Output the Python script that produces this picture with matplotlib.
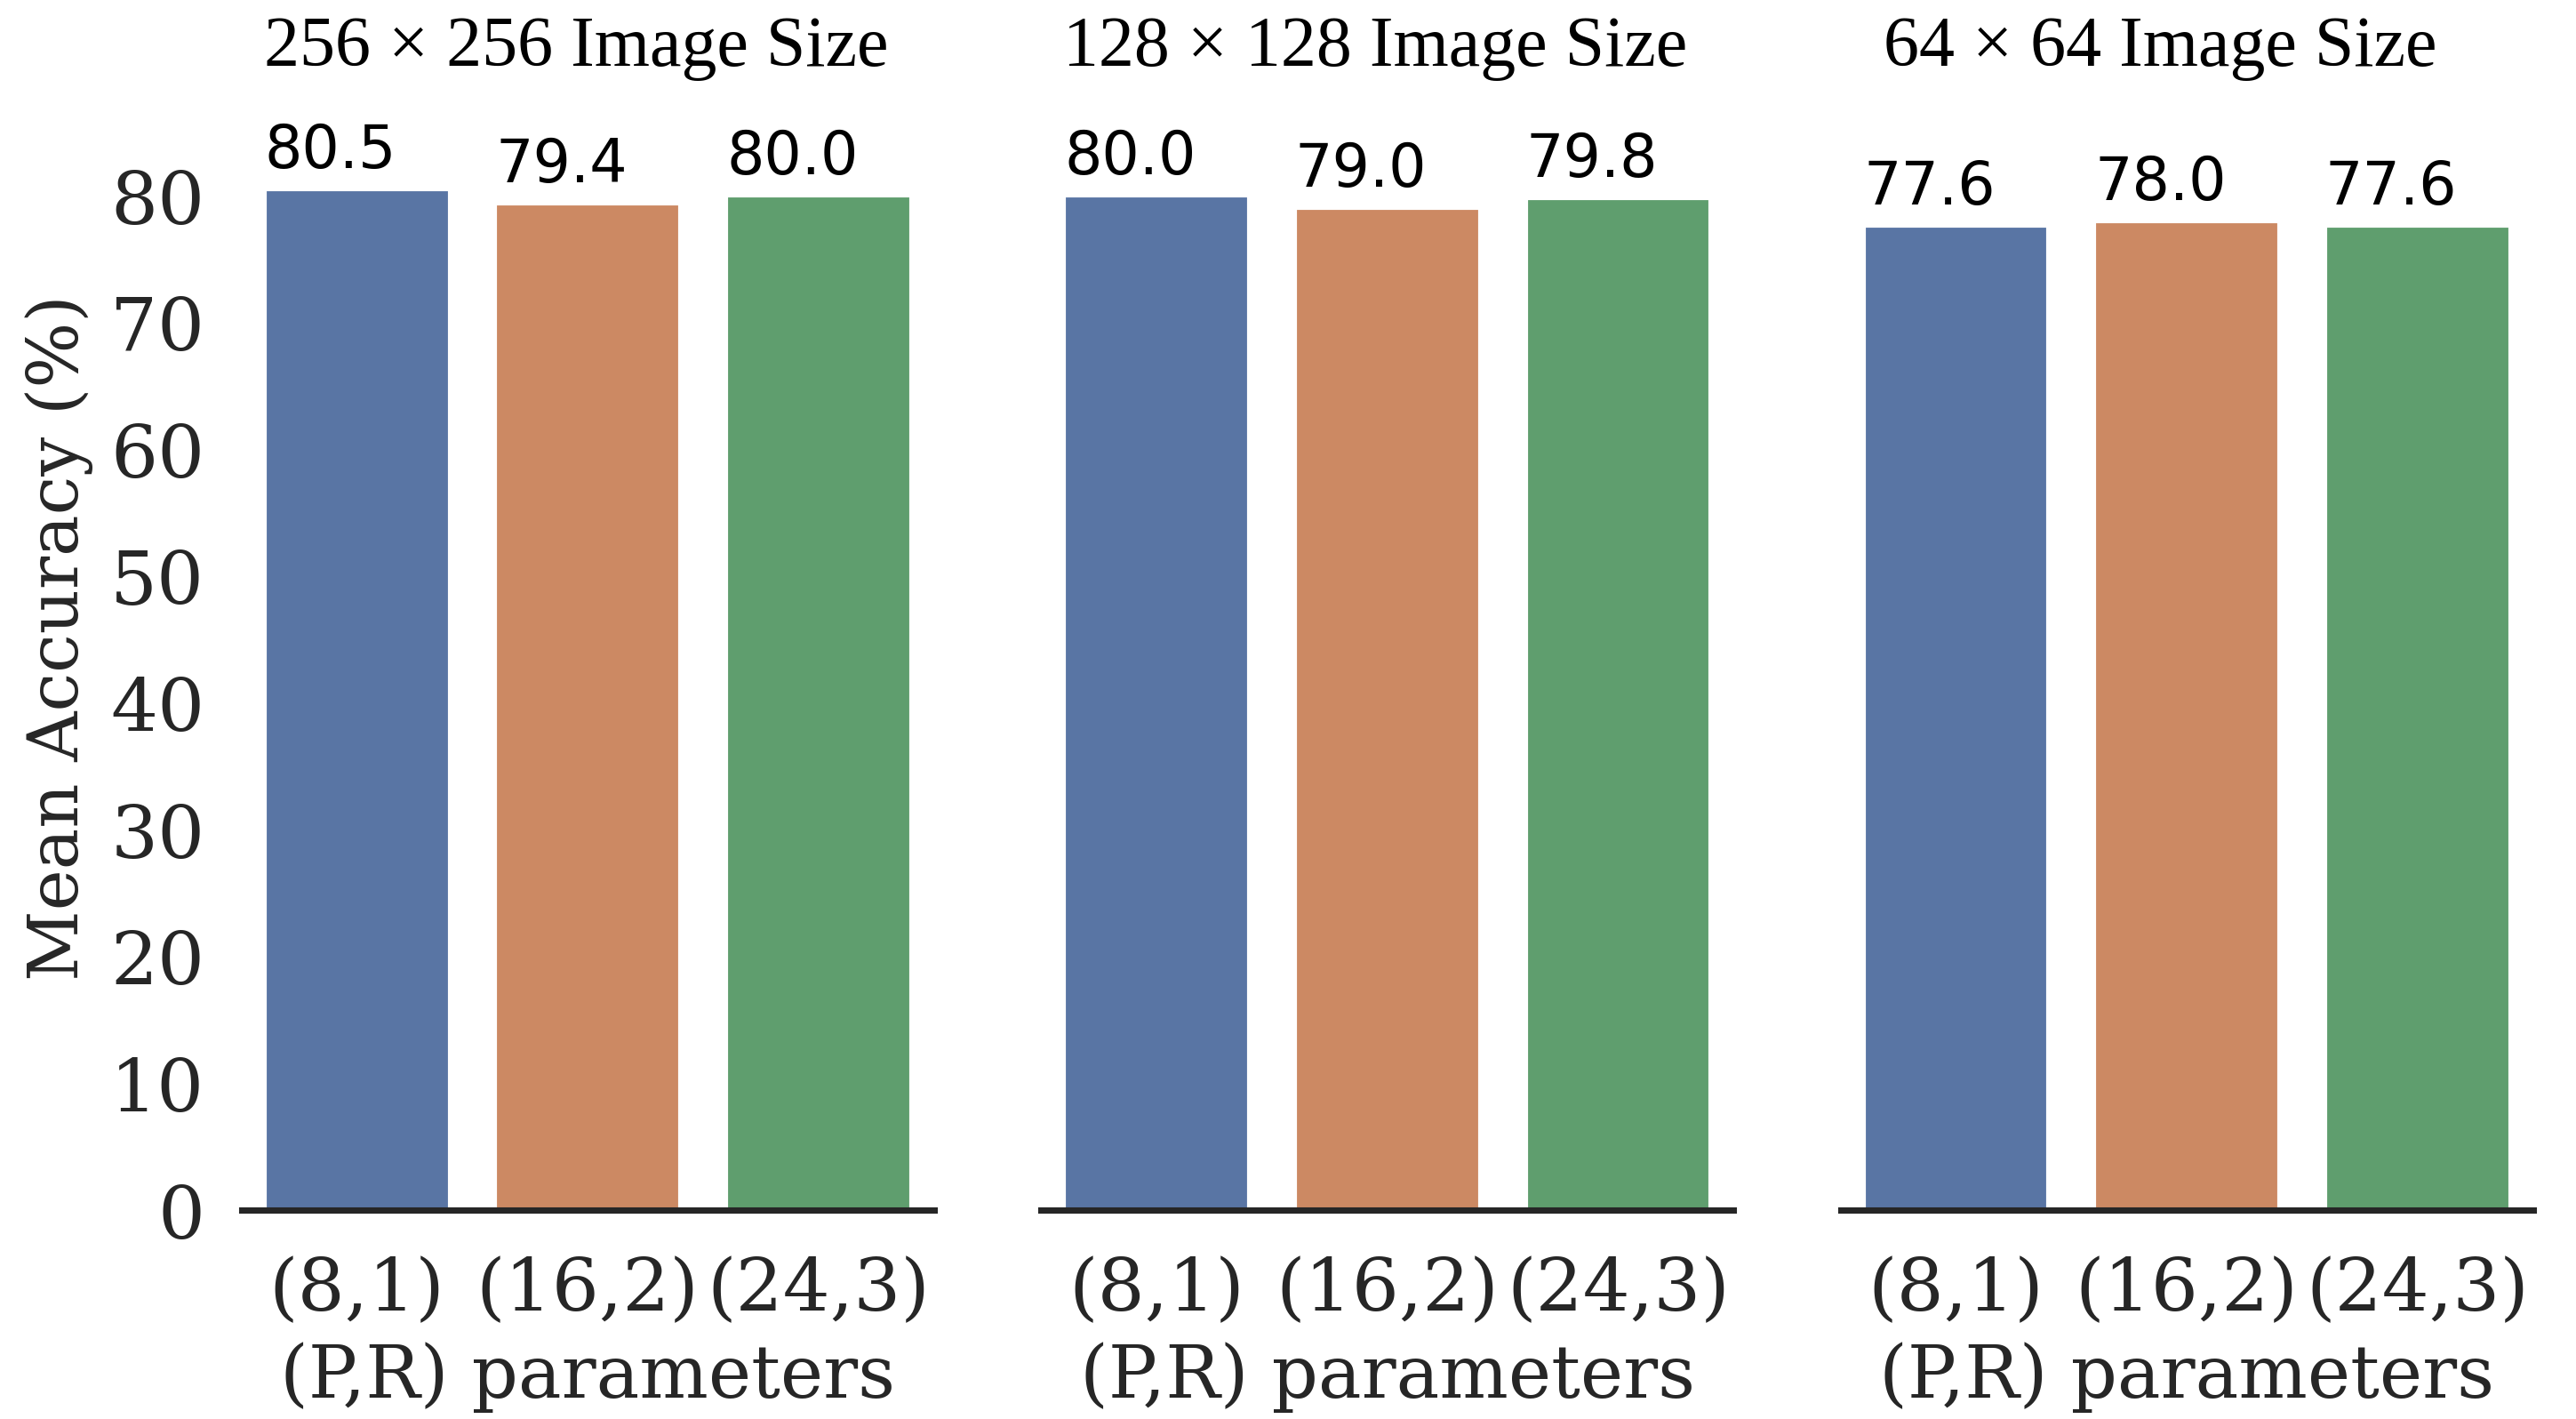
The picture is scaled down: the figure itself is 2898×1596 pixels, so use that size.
import matplotlib
matplotlib.use("Agg")
import matplotlib.pyplot as plt
import seaborn as sns

sizes = ["256 \u00d7 256 Image Size", "128 \u00d7 128 Image Size", "64 \u00d7 64 Image Size"]
params = ["(8,1)", "(16,2)", "(24,3)"]
acc_256 = [80.5, 79.4, 80.0]
acc_128 = [80.0, 79.0, 79.8]
acc_64 = [77.6, 78.0, 77.6]
all_acc = [acc_256, acc_128, acc_64]

sns.set_theme(style="white")
plt.rcParams["font.family"] = ["DejaVu Serif"]

fig, axes = plt.subplots(1, 3, figsize=(9.663, 5.323), dpi=300, sharey=True)
fig.subplots_adjust(left=0.0938, right=0.983, bottom=0.147, top=0.933, wspace=0.155)

colors = sns.color_palette("deep", 3)
title_x = [0.483, 0.483, 0.462]

for i, ax in enumerate(axes):
    sns.barplot(x=params, y=all_acc[i], hue=params, palette=colors, saturation=0.75,
                legend=False, ax=ax)
    ax.set_ylim(0, 88)
    ax.set_yticks(range(0, 81, 10))
    ax.set_title(sizes[i], fontsize=19.2, family="Liberation Serif", color="black",
                 pad=8, x=title_x[i])
    ax.set_xlabel("(P,R) parameters", fontsize=19.6, color="#262626", labelpad=4)
    ax.tick_params(axis="x", labelsize=20, length=0, pad=12, colors="#262626")
    ax.tick_params(axis="y", labelsize=20, length=0, pad=10, colors="#262626")
    for p in ax.patches:
        h = p.get_height()
        ax.text(p.get_x(), h + 1.75, f"{h:.1f}", fontsize=16, family="DejaVu Sans",
                color="black", ha="left", va="baseline")
    for s in ["left", "right", "top"]:
        ax.spines[s].set_visible(False)
    ax.spines["bottom"].set_linewidth(1.7)
    ax.spines["bottom"].set_color("#262626")
    if i == 0:
        ax.set_ylabel("Mean Accuracy (%)", fontsize=18.7, color="#262626")
        ax.yaxis.set_label_coords(-0.214, 0.514)
    else:
        ax.set_ylabel("")
        ax.tick_params(axis="y", labelleft=False)

fig.savefig("out.png", dpi=300)
